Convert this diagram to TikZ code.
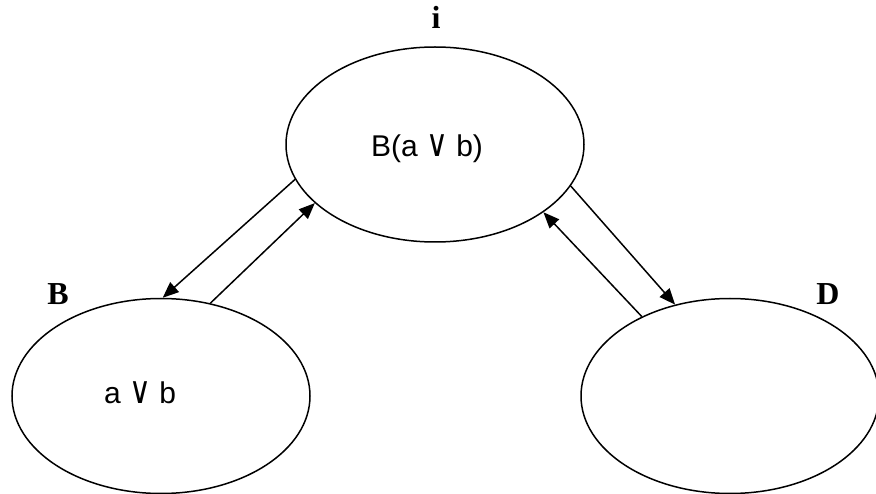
\documentclass[tikz,border=0pt]{standalone}
\usepackage{fontspec}
\setmainfont{Liberation Serif}
\newfontfamily\labsans{Liberation Sans}
\newfontfamily\symfont{DejaVu Sans}
\usetikzlibrary{shapes.geometric,arrows.meta}
\newcommand{\orsym}{{\symfont\fontsize{26}{30}\selectfont\scalebox{1.15}[1.45]{∨}}}
\tikzset{
  state/.style={ellipse, draw, line width=1.5pt, minimum width=298pt, minimum height=195pt, inner sep=0pt},
  lab/.style={font=\fontsize{32}{36}\selectfont\bfseries, anchor=base, inner sep=0pt},
  content/.style={font=\labsans\fontsize{30}{34}\selectfont, anchor=base, inner sep=0pt},
  link/.style={line width=1.5pt, -{Triangle[length=16pt,width=13pt]}}
}
\begin{document}
\begin{tikzpicture}[x=1pt,y=-1pt]
\useasboundingbox (0,0) rectangle (876,494);
\node[state] (top) at (435,144.5) {};
\node[state] (left) at (161,396) {};
\node[state] (right) at (730,396) {};
\node[content] (toptext) at (427,157) {B(a \orsym{} b)};
\node[content] (lefttext) at (140,403) {a \orsym{} b};
\node[lab] (li) at (436,29) {i};
\node[lab] (lB) at (58,305) {B};
\node[lab] (lD) at (828,305) {D};
\draw[link] (top.194.9) -- (left.89);
\draw[link] (left.62.5) -- (top.206.6);
\draw[link] (top.343.9) -- (right.121.1);
\draw[link] (right.138.4) -- (top.328.9);
\end{tikzpicture}
\end{document}
